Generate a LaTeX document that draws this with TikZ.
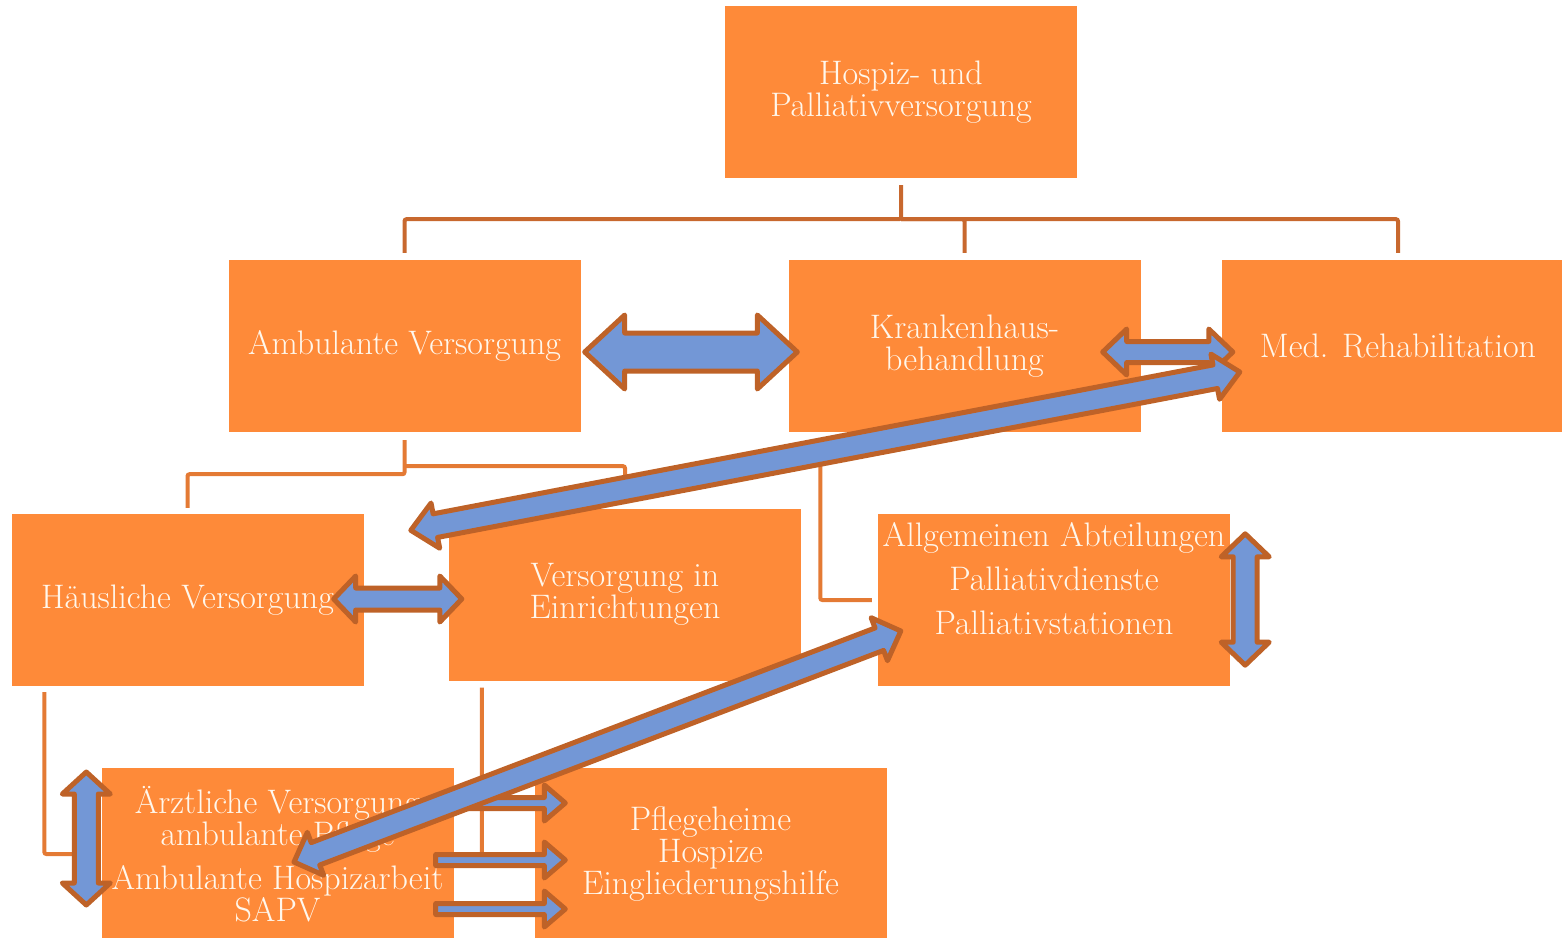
\documentclass[tikz,border=0pt]{standalone}
\usepackage{tikz}
\usetikzlibrary{calc, positioning}

\definecolor{boxorange}{RGB}{254,138,57}
\definecolor{boxtext}{RGB}{255,247,236}
\definecolor{linkdark}{RGB}{200,104,46}
\definecolor{linklight}{RGB}{228,122,52}
\definecolor{arrowblue}{RGB}{115,151,214}
\definecolor{arrowbrown}{RGB}{190,98,40}

\tikzstyle{orangebox} = [rectangle, minimum width=352pt, minimum height=172pt, inner sep=0pt, align=center, fill=boxorange, text=boxtext, font=\fontsize{34}{32}\selectfont]
\tikzstyle{treeline} = [line width=4pt, draw=linkdark, rounded corners=2pt]
\tikzstyle{subline} = [treeline, draw=linklight]
\tikzstyle{fatarrow} = [line width=5pt, draw=arrowbrown, fill=arrowblue, line join=round]

% block arrow with two heads: from, to, head length, shaft half width, head half width
\newcommand{\dblarrow}[5]{%
  \path ($(#1)!#3!(#2)$) coordinate (ahead) ($(#2)!#3!(#1)$) coordinate (bhead);
  \draw [fatarrow] (#1) -- ($(ahead)!#5!90:(#2)$) -- ($(ahead)!#4!90:(#2)$)
    -- ($(bhead)!#4!-90:(#1)$) -- ($(bhead)!#5!-90:(#1)$) -- (#2)
    -- ($(bhead)!#5!90:(#1)$) -- ($(bhead)!#4!90:(#1)$)
    -- ($(ahead)!#4!-90:(#2)$) -- ($(ahead)!#5!-90:(#2)$) -- cycle;
}
% block arrow with one head: tail, tip, head length, shaft half width, head half width
\newcommand{\sglarrow}[5]{%
  \path ($(#2)!#3!(#1)$) coordinate (bhead);
  \draw [fatarrow] ($(#1)!#4!90:(#2)$) -- ($(bhead)!#4!-90:(#1)$) -- ($(bhead)!#5!-90:(#1)$)
    -- (#2) -- ($(bhead)!#5!90:(#1)$) -- ($(bhead)!#4!90:(#1)$) -- ($(#1)!#4!-90:(#2)$) -- cycle;
}

\begin{document}
\begin{tikzpicture}[x=1pt, y=-1pt]
\useasboundingbox (0,0) rectangle (1562,937);

\node (hospiz) [orangebox] at (901,92) {Hospiz- und\\Palliativversorgung};
\node (ambulant) [orangebox] at (404.5,346) {Ambulante Versorgung};
\node (kranken) [orangebox] at (964.5,346) {Krankenhaus-\\behandlung};
\node (reha) [orangebox] at (1398,346) {Med. Rehabilitation};
\node (haeuslich) [orangebox] at (187.5,600) {H\"ausliche Versorgung};
\node (einricht) [orangebox] at (625,594.5) {Versorgung in\\Einrichtungen};
\node (abteil) [orangebox] at (1054,600) {Allgemeinen Abteilungen\\[12pt]Palliativdienste\\[12pt]Palliativstationen\\[12pt]\mbox{}};
\node (aerztl) [orangebox] at (277.5,854) {\"Arztliche Versorgung\\ambulante Pflege\\[12pt]Ambulante Hospizarbeit\\SAPV};
\node (pflege) [orangebox] at (710.5,854) {Pflegeheime\\Hospize\\Eingliederungshilfe};

\draw [treeline] ($(hospiz.south)+(0,7)$) -- ++(0,34) -| ($(ambulant.north)+(0,-7)$);
\draw [treeline] ($(hospiz.south)+(0,41)$) -| ($(kranken.north)+(0,-7)$);
\draw [treeline] ($(hospiz.south)+(0,41)$) -| ($(reha.north)+(0,-7)$);
\draw [subline] ($(ambulant.south)+(0,8)$) -- ++(0,34) -| ($(haeuslich.north)+(0,-6)$);
\draw [subline] ($(ambulant.south)+(0,34)$) -| ($(einricht.north)+(0,-7)$);
\draw [subline] ($(kranken.south west)+(32,8)$) |- ($(abteil.west)+(-6,0)$);
\draw [subline] ($(haeuslich.south west)+(33,6)$) |- ($(aerztl.west)+(-6,0)$);
\draw [subline] ($(einricht.south west)+(33,7)$) |- ($(pflege.west)+(-6,0)$);

\coordinate (ambkr1) at ($(ambulant.east)+(4,6)$);
\coordinate (ambkr2) at ($(kranken.west)+(9,6)$);
\coordinate (krreha1) at ($(kranken.east)+(-38,6)$);
\coordinate (krreha2) at ($(reha.west)+(11,6)$);
\coordinate (hausreha1) at ($(einricht.north west)+(-38,22)$);
\coordinate (hausreha2) at ($(reha.west)+(18,26)$);
\coordinate (hausein1) at ($(haeuslich.east)+(-30,-1)$);
\coordinate (hausein2) at ($(einricht.west)+(13,4.5)$);
\coordinate (abt1) at ($(abteil.north east)+(15,20)$);
\coordinate (abt2) at ($(abteil.south east)+(15,-21)$);
\coordinate (arzt1) at ($(aerztl.west)+(-15,-82)$);
\coordinate (arzt2) at ($(aerztl.west)+(-15,51)$);
\coordinate (arztabt1) at ($(aerztl.center)+(16.5,8)$);
\coordinate (arztabt2) at ($(abteil.west)+(23,31)$);

\dblarrow{krreha1}{krreha2}{24pt}{10.5pt}{23pt}
\dblarrow{ambkr1}{ambkr2}{40pt}{19pt}{37pt}
\dblarrow{hausein1}{hausein2}{22pt}{11pt}{23pt}
\dblarrow{abt1}{abt2}{23pt}{12pt}{24pt}
\dblarrow{arzt1}{arzt2}{22pt}{12pt}{24pt}

% three arrows into Pflegeheime
\foreach \dy [count=\i] in {-51,6,55} {
  \coordinate (tail\i) at ($(aerztl.east)+(-18,\dy)$);
  \coordinate (tip\i) at ($(pflege.west)+(31,\dy)$);
  \sglarrow{tail\i}{tip\i}{21pt}{5.5pt}{18pt}
}

\dblarrow{hausreha1}{hausreha2}{25pt}{12pt}{23pt}
\dblarrow{arztabt1}{arztabt2}{23pt}{12pt}{23pt}

\end{tikzpicture}
\end{document}
